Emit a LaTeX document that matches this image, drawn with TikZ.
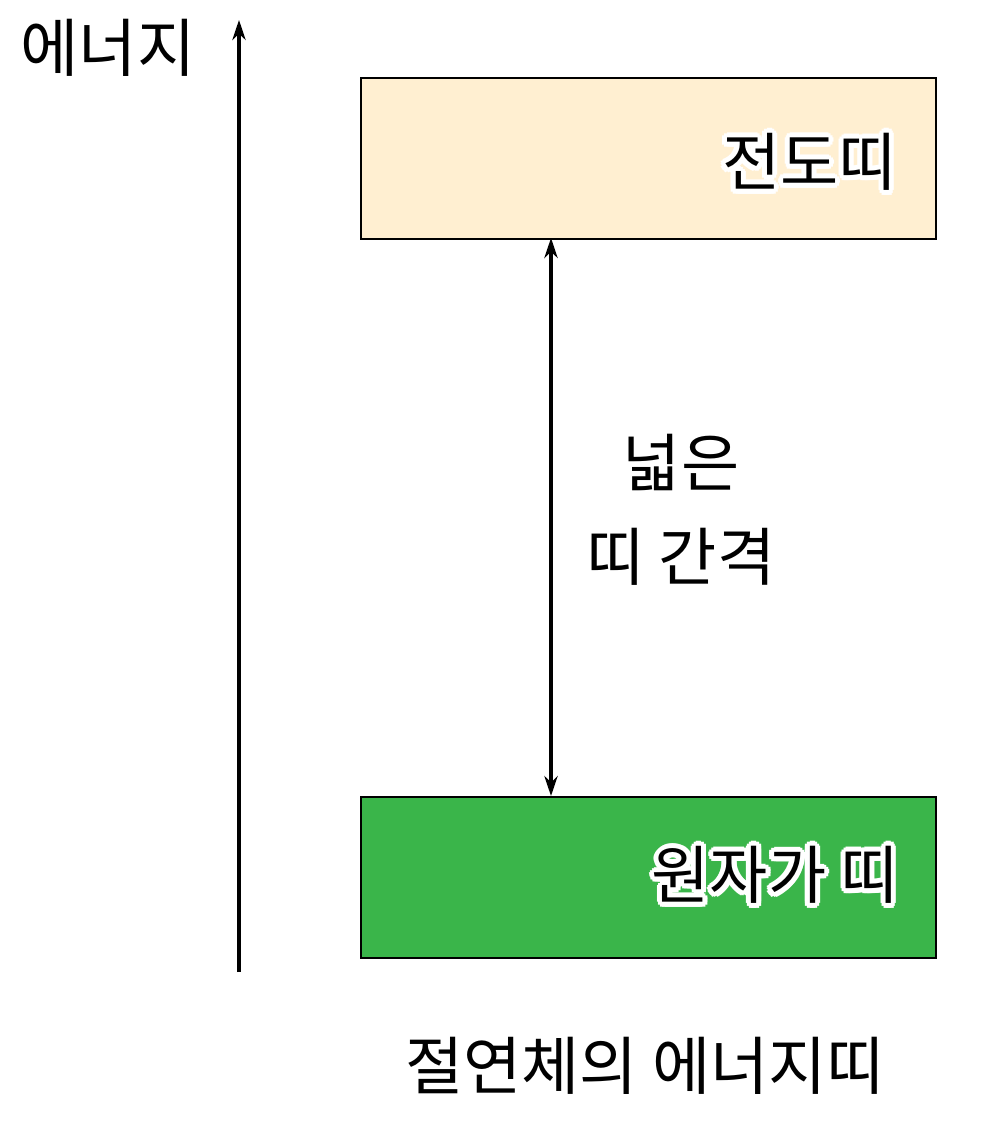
\documentclass[tikz,border=0pt]{standalone}
\usepackage{fontspec}
\setmainfont{Noto Sans CJK KR}
\usetikzlibrary{arrows.meta}
\definecolor{cbfill}{HTML}{FFEFD1}
\definecolor{vbfill}{HTML}{3AB54A}

\begin{document}
\begin{tikzpicture}[x=0.03cm, y=-0.03cm]
        % ================= 样式定义 =================
        \tikzset{
            band/.style={draw=black, line width=1.8pt},
            label_txt/.style={font=\fontsize{54}{80}\selectfont, inner sep=0pt},
            axis_arrow/.style={line width=2.8pt, -{Stealth[length=6mm, width=4mm]}},
            gap_arrow/.style={line width=2.8pt, {Stealth[length=6mm, width=4mm]}-{Stealth[length=6mm, width=4mm]}}
        }
        \newcommand{\halotext}[3]{%
            \foreach \a in {0,30,...,330}
                \node[label_txt, text=white, anchor=east] at ([shift={(\a:5)}]#1) {#3};
            \node[label_txt, anchor=east] (#2) at (#1) {#3};
        }
        \useasboundingbox (0,0) rectangle (983,1121);

        % ================= 能量轴 =================
        \coordinate (ax0) at (239,972);
        \coordinate (ax1) at (239,20);
        \draw[axis_arrow] (ax0) -- (ax1);
        \node[label_txt] (elabel) at (108,48) {에너지};

        % ================= 能带 =================
        \node[band, fill=cbfill, minimum width=575*0.03cm, minimum height=161*0.03cm, anchor=north west] (cb) at (360,77) {};
        \node[band, fill=vbfill, minimum width=575*0.03cm, minimum height=161*0.03cm, anchor=north west] (vb) at (360,796) {};
        \coordinate (cbt) at (897,162);
        \coordinate (vbt) at (899,875);
        \halotext{cbt}{cblabel}{전도띠}
        \halotext{vbt}{vblabel}{원자가 띠}

        % ================= 带隙 =================
        \coordinate (gtop) at (551,238);
        \coordinate (gbot) at (551,796);
        \draw[gap_arrow] (gtop) -- (gbot);
        \node[label_txt, align=center] (gap) at (681,510) {넓은\\띠 간격};

        \node[label_txt] (title) at (645,1066) {절연체의 에너지띠};
    \end{tikzpicture}
\end{document}
